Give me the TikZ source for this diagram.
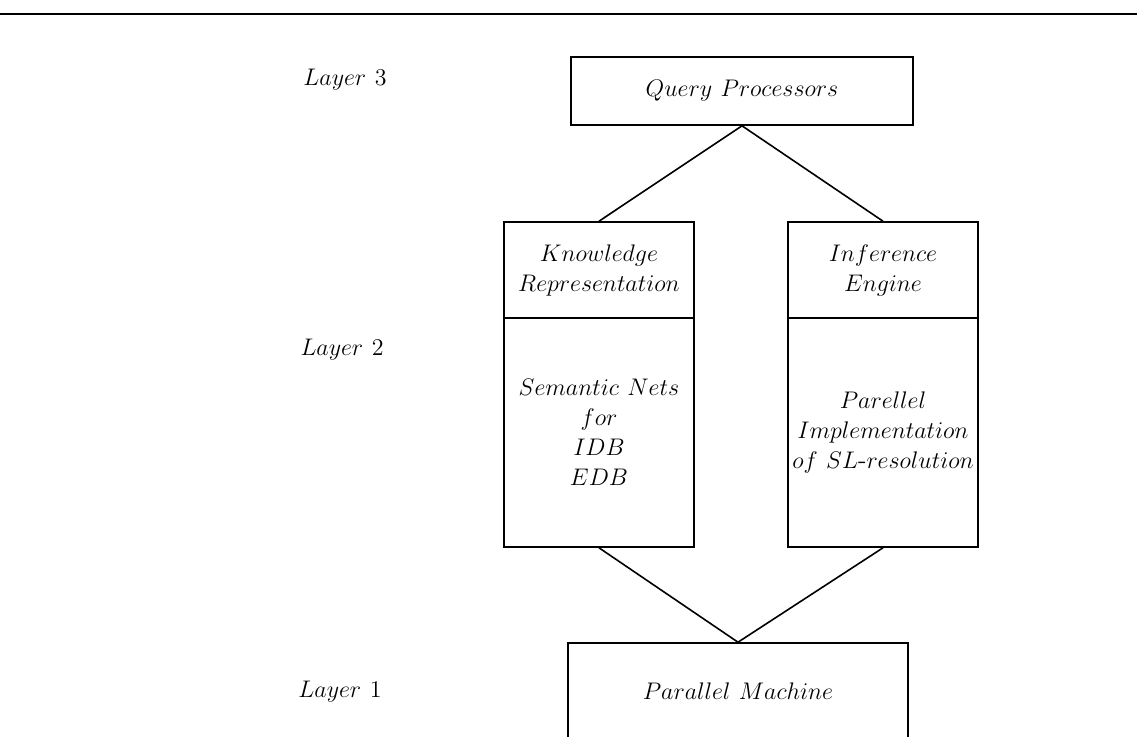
\documentclass[tikz,border=0pt]{standalone}
\usepackage{amsmath}
\usepackage{amssymb}
\usepackage{tikz}

\tikzset{
  box/.style={draw, line width=0.8, minimum width=95pt, inner sep=0, align=center,
    font=\fontsize{13}{15}\selectfont},
  layerlabel/.style={inner sep=0, font=\fontsize{13}{15}\selectfont}
}

\begin{document}
\begin{tikzpicture}[x=0.5pt,y=0.5pt,yscale=-1,xscale=1]
\useasboundingbox (0,0) rectangle (1137,736);
\draw [line width=0.8] (0,14) -- (1137,14);
\node [layerlabel] (l3) at (345,80) {$Layer\ 3$};
\node [layerlabel] (l2) at (342,350) {$Layer\ 2$};
\node [layerlabel] (l1) at (340,692) {$Layer\ 1$};
\node [box, minimum width=171pt, minimum height=34pt] (qp) at (742,91) {$Query\ Processors$};
\node [box, minimum height=48pt] (kr) at (599,270) {$Knowledge$\\$Representation$};
\node [box, minimum height=114.5pt] (sn) at (599,432.5) {$Semantic\ Nets$\\$for$\\$IDB$\\$EDB$};
\node [box, minimum height=48pt] (ie) at (883,270) {$Inference$\\$Engine$};
\node [box, minimum height=114.5pt] (pi) at (883,432.5) {$Parellel$\\$Implementation$\\$of\ SL$-$resolution$};
\node [box, minimum width=170pt, minimum height=48pt] (pm) at (738,691) {$Parallel\ Machine$};
\draw [line width=0.8] (qp.south) -- (kr.north);
\draw [line width=0.8] (qp.south) -- (ie.north);
\draw [line width=0.8] (sn.south) -- (pm.north);
\draw [line width=0.8] (pi.south) -- (pm.north);
\end{tikzpicture}
\end{document}
